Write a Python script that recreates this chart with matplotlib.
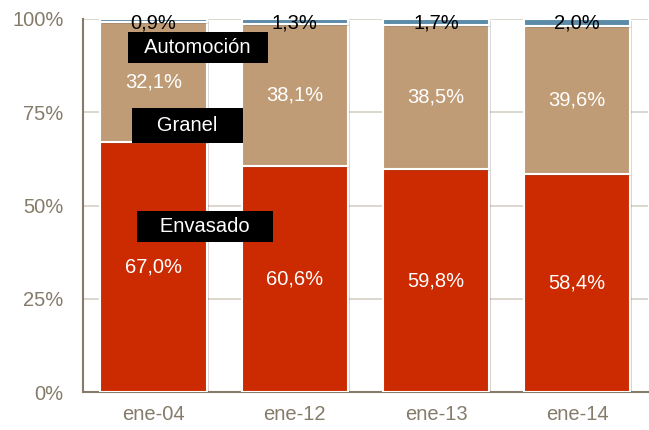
import matplotlib
matplotlib.use("Agg")
import matplotlib.pyplot as plt
from matplotlib import patheffects as pe

categories = ["ene-04", "ene-12", "ene-13", "ene-14"]
envasado = [67.0, 60.6, 59.8, 58.4]
granel = [32.1, 38.1, 38.5, 39.6]
automocion = [0.9, 1.3, 1.7, 2.0]
yticks = [0, 25, 50, 75, 100]

plt.rcParams['font.family'] = ['Liberation Sans', 'DejaVu Sans']

c_env = "#CC2A00"
c_gra = "#C09C76"
c_aut = "#5B8BA8"
axis_c = "#857B6A"
fs = 14.5

fig = plt.figure(figsize=(6.49, 4.30), dpi=100)
ax = fig.add_axes([0.128, 0.088, 0.870, 0.868])

x = list(range(len(categories)))
w = 0.755
shadow = [pe.SimplePatchShadow(offset=(1.5, -1.5), alpha=0.18), pe.Normal()]
b1 = ax.bar(x, envasado, w, color=c_env, edgecolor="white", linewidth=1.5, zorder=3)
b2 = ax.bar(x, granel, w, bottom=envasado, color=c_gra, edgecolor="white", linewidth=1.5, zorder=3)
bot3 = [a + b for a, b in zip(envasado, granel)]
b3 = ax.bar(x, automocion, w, bottom=bot3, color=c_aut, edgecolor="white", linewidth=1.5, zorder=3)
for bars in (b1, b2, b3):
    for p in bars:
        p.set_path_effects(shadow)

def fmt(v):
    return f"{v:.1f}%".replace(".", ",")

for i in x:
    ax.text(i, envasado[i] / 2, fmt(envasado[i]), ha="center", va="center",
            color="white", fontsize=fs, zorder=5)
    ax.text(i, envasado[i] + granel[i] / 2, fmt(granel[i]), ha="center", va="center",
            color="white", fontsize=fs, zorder=5)
    ax.text(i, 99.0, fmt(automocion[i]), ha="center", va="center",
            color="black", fontsize=fs, zorder=5)

box = dict(boxstyle="square,pad=0.3", facecolor="black", edgecolor="none")
ax.text(0.315, 92.3, "  Automoción  ", ha="center", va="center", color="white",
        fontsize=fs, bbox=box, zorder=6)
ax.text(0.24, 71.5, "   Granel   ", ha="center", va="center", color="white",
        fontsize=fs, bbox=dict(boxstyle="square,pad=0.4", facecolor="black", edgecolor="none"),
        zorder=6)
ax.text(0.364, 44.3, "   Envasado   ", ha="center", va="center", color="white",
        fontsize=fs, bbox=box, zorder=6)

ax.set_xlim(-0.5, 3.5)
ax.set_ylim(0, 100)
ax.set_yticks(yticks)
ax.set_yticklabels([f"{t}%" for t in yticks])
ax.set_xticks(x)
ax.set_xticklabels(categories)
ax.tick_params(axis="both", colors=axis_c, labelsize=fs, length=0)
ax.tick_params(axis="y", pad=14)
ax.tick_params(axis="x", pad=9)
ax.yaxis.grid(True, color="#D6D0C6", linewidth=1.2, zorder=0)
ax.set_axisbelow(True)
for s in ("top", "right"):
    ax.spines[s].set_visible(False)
for s in ("left", "bottom"):
    ax.spines[s].set_color(axis_c)
    ax.spines[s].set_linewidth(1.5)

fig.savefig("out.png", dpi=100)
